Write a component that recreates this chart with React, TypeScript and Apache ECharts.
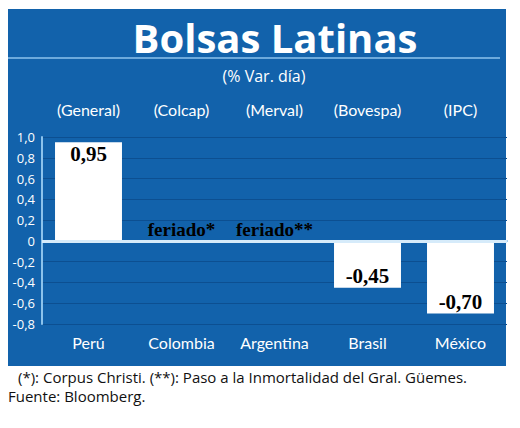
import React, { useEffect, useRef } from "react";
import * as echarts from "echarts";

const categories = ["Perú", "Colombia", "Argentina", "Brasil", "México"];
const indices = ["(General)", "(Colcap)", "(Merval)", "(Bovespa)", "(IPC)"];
const values = [0.95, 0, 0, -0.45, -0.7];
const notes = ["", "feriado*", "feriado**", "", ""];
const yMin = -0.8;
const yMax = 1.0;
const yStep = 0.2;

const BLUE = "#1262ab";
const GRID = "#0c4f91";
const LIGHT = "#8cc3ec";
const NARROW = "Lato, 'Liberation Sans Narrow', sans-serif";
const HUMAN = "'Open Sans', 'DejaVu Sans', sans-serif";
const SERIF = "'Liberation Serif', 'DejaVu Serif', serif";

const fmtVal = (v: number) => v.toFixed(2).replace(".", ",");
const fmtTick = (v: number) => (Math.abs(v) < 1e-9 ? "0" : v.toFixed(1).replace(".", ","));

export default function App() {
  const ref = useRef<HTMLDivElement>(null);
  useEffect(() => {
    if (!ref.current) return;
    const chart = echarts.init(ref.current, undefined, { renderer: "svg" });
    const data = values.map((v, i) => {
      const note = notes[i];
      return {
        value: v,
        itemStyle: { color: note ? "rgba(0,0,0,0)" : "#ffffff" },
        label: {
          show: true,
          position: note ? "top" : v >= 0 ? "insideTop" : "insideBottom",
          distance: note ? 1 : 2,
          formatter: note || fmtVal(v),
          color: "#000000",
          fontFamily: SERIF,
          fontWeight: "bold",
          fontSize: note ? 19 : 21,
          lineHeight: 20,
        },
      };
    });
    chart.setOption({
      animation: false,
      backgroundColor: "#ffffff",
      graphic: [
        { type: "rect", z: -10, shape: { x: 8, y: 9, width: 498, height: 357 }, style: { fill: BLUE } },
        { type: "line", z: -5, shape: { x1: 8, y1: 58, x2: 500, y2: 58 }, style: { stroke: LIGHT, lineWidth: 1.5 } },
        {
          type: "text", x: 275, y: 37,
          style: { text: "Bolsas Latinas", fill: "#ffffff", font: `bold 40px ${HUMAN}`, align: "center", verticalAlign: "middle" },
        },
        {
          type: "text", x: 264, y: 76,
          style: { text: "(% Var. día)", fill: "#ffffff", font: `16px ${HUMAN}`, align: "center", verticalAlign: "middle" },
        },
        {
          type: "text", x: 18, y: 377,
          style: { text: "(*): Corpus Christi. (**): Paso a la Inmortalidad del Gral. Güemes.", fill: "#111111", font: `15px ${HUMAN}`, lineHeight: 16, align: "left", verticalAlign: "middle" },
        },
        {
          type: "text", x: 8, y: 396,
          style: { text: "Fuente: Bloomberg.", fill: "#111111", font: `15px ${HUMAN}`, lineHeight: 16, align: "left", verticalAlign: "middle" },
        },
      ],
      grid: { left: 42, right: 13, top: 137, bottom: 104 },
      xAxis: [
        {
          type: "category",
          data: categories,
          position: "bottom",
          axisLine: { show: false, onZero: false },
          axisTick: { show: false },
          axisLabel: { interval: 0, color: "#ffffff", fontFamily: NARROW, fontSize: 16, margin: 10 },
        },
        {
          type: "category",
          data: indices,
          position: "top",
          axisLine: { show: true, lineStyle: { color: LIGHT, width: 2 } },
          axisTick: { show: false },
          axisLabel: { interval: 0, color: "#ffffff", fontFamily: NARROW, fontSize: 16, margin: 20 },
        },
      ],
      yAxis: {
        type: "value",
        min: yMin,
        max: yMax,
        interval: yStep,
        axisLine: { show: true, lineStyle: { color: LIGHT, width: 2 } },
        axisTick: { show: false },
        splitLine: { show: true, lineStyle: { color: GRID, width: 1 } },
        axisLabel: { color: "#ffffff", fontFamily: HUMAN, fontSize: 13, margin: 7, formatter: fmtTick },
      },
      series: [
        {
          type: "bar",
          xAxisIndex: 0,
          data,
          barWidth: "72%",
          markLine: {
            silent: true,
            symbol: "none",
            label: { show: false },
            lineStyle: { color: "#d6ebfa", width: 3, type: "solid" },
            data: [{ yAxis: 0 }],
          },
        },
      ],
    });
    return () => chart.dispose();
  }, []);
  return <div ref={ref} style={{ position: "fixed", left: 0, top: 0, width: 520, height: 428 }} />;
}
